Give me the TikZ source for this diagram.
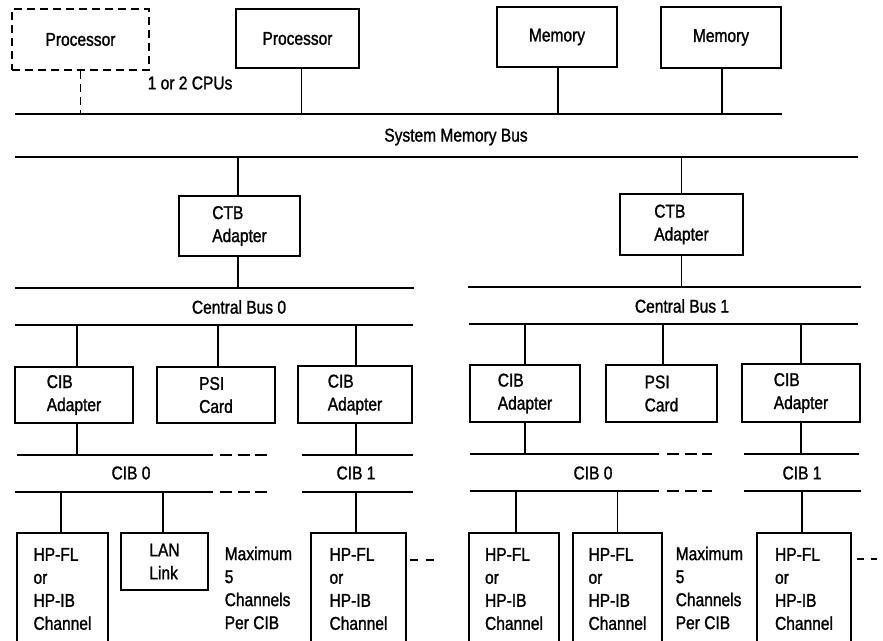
\documentclass[tikz,border=0pt]{standalone}
\usepackage{fontspec}
\setmainfont{Liberation Sans}[FakeStretch=0.84,FakeBold=1.3]
\begin{document}
\begin{tikzpicture}[x=1pt,y=-1pt,line width=1.5pt,
  font=\fontsize{18.5}{23}\selectfont,
  box/.style={draw,inner sep=0pt,align=left},
  dbox/.style={box,dash pattern=on 8pt off 5pt},
  lbl/.style={inner sep=0pt},
  bus/.style={line width=1.5pt},
  dline/.style={dash pattern=on 8pt off 5pt},
  cont/.style={dash pattern=on 12pt off 5.5pt},
  tail/.style={dash pattern=on 8pt off 8pt}]
\useasboundingbox (0,0) rectangle (883,640);
\clip (0,0) rectangle (883,640);
% top boxes
\node[dbox,minimum width=137pt,minimum height=61pt] (p0) at (80.5,39.5) {Processor};
\node[box,minimum width=123pt,minimum height=59pt] (p1) at (297.5,38.5) {Processor};
\node[box,minimum width=120pt,minimum height=60pt] (m1) at (557,37) {Memory};
\node[box,minimum width=120pt,minimum height=61pt] (m2) at (721,37.5) {Memory};
\node[lbl,anchor=west] (cpus) at (147,83) {1 or 2 CPUs};
% system memory bus
\coordinate (smA) at (15,114); \coordinate (smB) at (782,114);
\coordinate (smC) at (15,157); \coordinate (smD) at (858,157);
\draw[bus] (smA) -- (smB);
\draw[bus] (smC) -- (smD);
\node[lbl] (smb) at (456,137) {System Memory Bus};
\draw[dline] (p0.south) -- (p0.south |- smA);
\draw ([xshift=4pt]p1.south) -- ([xshift=4pt]p1.south |- smA);
\draw ([xshift=1pt]m1.south) -- ([xshift=1pt]m1.south |- smA);
\draw ([xshift=1pt]m2.south) -- ([xshift=1pt]m2.south |- smA);
% CTB adapters
\node[box,minimum width=121pt,minimum height=60pt] (ctb0) at (239.5,226) {CTB\\Adapter};
\node[box,minimum width=123pt,minimum height=61pt] (ctb1) at (681.5,224.5) {CTB\\Adapter};
\draw ([xshift=-1.5pt]ctb0.north) -- ([xshift=-1.5pt]ctb0.north |- smC);
\draw (ctb1.north) -- (ctb1.north |- smC);
% central buses
\coordinate (c0A) at (15,288); \coordinate (c0B) at (414,288);
\coordinate (c0C) at (15,325); \coordinate (c0D) at (413,325);
\coordinate (c1A) at (468,287); \coordinate (c1B) at (861,287);
\coordinate (c1C) at (469,324); \coordinate (c1D) at (858,324);
\draw[bus] (c0A) -- (c0B); \draw[bus] (c0C) -- (c0D);
\draw[bus] (c1A) -- (c1B); \draw[bus] (c1C) -- (c1D);
\node[lbl] (cb0) at (239,307) {Central Bus 0};
\node[lbl] (cb1) at (682,306) {Central Bus 1};
\draw ([xshift=-1.5pt]ctb0.south) -- ([xshift=-1.5pt]ctb0.south |- c0A);
\draw (ctb1.south) -- (ctb1.south |- c1A);
% CIB adapters and PSI cards
\node[box,minimum width=118pt,minimum height=56pt] (ca0) at (74,395) {CIB\\Adapter};
\node[box,minimum width=118pt,minimum height=56pt] (psi0) at (216,395) {PSI\\Card};
\node[box,minimum width=114pt,minimum height=57pt] (ca1) at (355,394.5) {CIB\\Adapter};
\node[box,minimum width=110pt,minimum height=57pt] (cb0a) at (525,393.5) {CIB\\Adapter};
\node[box,minimum width=111pt,minimum height=57pt] (psi1) at (661.5,393.5) {PSI\\Card};
\node[box,minimum width=118pt,minimum height=58pt] (cb1a) at (801,393) {CIB\\Adapter};
\draw ([xshift=3pt]ca0.north) -- ([xshift=3pt]ca0.north |- c0C);
\draw ([xshift=2pt]psi0.north) -- ([xshift=2pt]psi0.north |- c0C);
\draw ([xshift=1pt]ca1.north) -- ([xshift=1pt]ca1.north |- c0C);
\draw (cb0a.north) -- (cb0a.north |- c1C);
\draw ([xshift=1.5pt]psi1.north) -- ([xshift=1.5pt]psi1.north |- c1C);
\draw (cb1a.north) -- (cb1a.north |- c1C);
% CIB buses
\coordinate (l0A) at (17,455); \coordinate (l0B) at (213,455); \coordinate (l0E) at (268,455);
\coordinate (l0C) at (15,492); \coordinate (l0D) at (213,492); \coordinate (l0F) at (268,492);
\coordinate (l1A) at (302,455); \coordinate (l1B) at (413,455);
\coordinate (l1C) at (302,492); \coordinate (l1D) at (413,492);
\coordinate (r0A) at (470,454); \coordinate (r0B) at (659,454); \coordinate (r0E) at (712,454);
\coordinate (r0C) at (470,491); \coordinate (r0D) at (659,491); \coordinate (r0F) at (712,491);
\coordinate (r1A) at (744,454); \coordinate (r1B) at (859,454);
\coordinate (r1C) at (744,491); \coordinate (r1D) at (861,491);
\draw[bus] (l0A) -- (l0B); \draw[bus,cont] ([xshift=7pt]l0B) -- (l0E);
\draw[bus] (l0C) -- (l0D); \draw[bus,cont] ([xshift=7pt]l0D) -- (l0F);
\draw[bus] (l1A) -- (l1B); \draw[bus] (l1C) -- (l1D);
\draw[bus] (r0A) -- (r0B); \draw[bus,cont] ([xshift=8pt]r0B) -- (r0E);
\draw[bus] (r0C) -- (r0D); \draw[bus,cont] ([xshift=8pt]r0D) -- (r0F);
\draw[bus] (r1A) -- (r1B); \draw[bus] (r1C) -- (r1D);
\node[lbl] (cib0l) at (131,473) {CIB 0};
\node[lbl] (cib1l) at (356,473) {CIB 1};
\node[lbl] (cib0r) at (593,473) {CIB 0};
\node[lbl] (cib1r) at (802,473) {CIB 1};
\draw ([xshift=3pt]ca0.south) -- ([xshift=3pt]ca0.south |- l0A);
\draw ([xshift=1pt]ca1.south) -- ([xshift=1pt]ca1.south |- l1A);
\draw (cb0a.south) -- (cb0a.south |- r0A);
\draw (cb1a.south) -- (cb1a.south |- r1A);
% channels
\node[box,minimum width=91pt,minimum height=112pt] (ch1) at (62.5,589) {HP-FL\\or\\HP-IB\\Channel};
\node[box,minimum width=87pt,minimum height=57pt] (lan) at (164.5,561.5) {LAN\\Link};
\node[box,minimum width=95pt,minimum height=112pt] (ch2) at (358.5,589) {HP-FL\\or\\HP-IB\\Channel};
\node[box,minimum width=90pt,minimum height=112pt] (ch3) at (514,589) {HP-FL\\or\\HP-IB\\Channel};
\node[box,minimum width=89pt,minimum height=112pt] (ch4) at (617.5,589) {HP-FL\\or\\HP-IB\\Channel};
\node[box,minimum width=94pt,minimum height=112pt] (ch5) at (804,589) {HP-FL\\or\\HP-IB\\Channel};
\node[lbl,anchor=west,align=left] (max0) at (224,588) {Maximum\\5\\Channels\\Per CIB};
\node[lbl,anchor=west,align=left] (max1) at (675,588) {Maximum\\5\\Channels\\Per CIB};
\draw ([xshift=-1.5pt]ch1.north) -- ([xshift=-1.5pt]ch1.north |- l0C);
\draw ([xshift=-1.5pt]lan.north) -- ([xshift=-1.5pt]lan.north |- l0C);
\draw ([xshift=-2.5pt]ch2.north) -- ([xshift=-2.5pt]ch2.north |- l1C);
\draw ([xshift=2pt]ch3.north) -- ([xshift=2pt]ch3.north |- r0C);
\draw (ch4.north) -- (ch4.north |- r0C);
\draw ([xshift=-2pt]ch5.north) -- ([xshift=-2pt]ch5.north |- r1C);
\coordinate (t0) at (437,560); \coordinate (t1) at (877,559);
\draw[bus,tail] ([xshift=3pt]ch2.east |- t0) -- (t0);
\draw[bus,dash pattern=on 7pt off 7pt] ([xshift=5pt]ch5.east |- t1) -- (t1);
\end{tikzpicture}
\end{document}
